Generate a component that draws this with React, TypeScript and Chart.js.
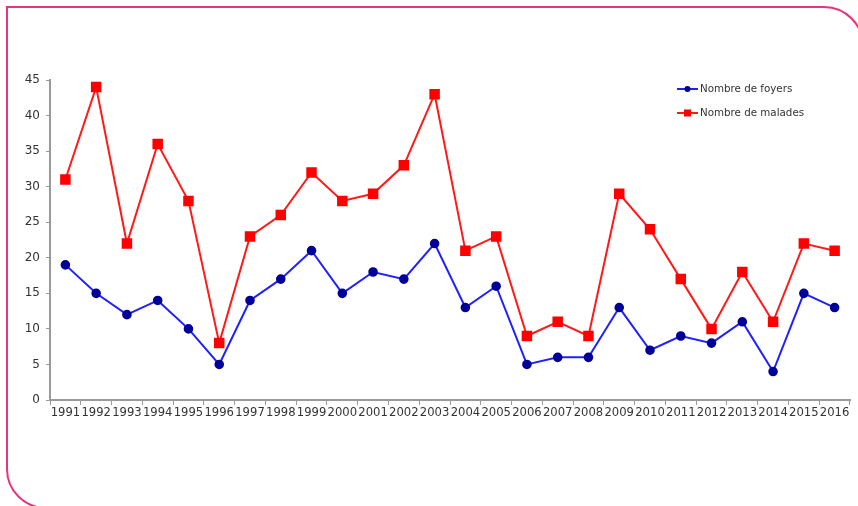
import React, { useEffect, useRef } from "react";
import { Chart, registerables } from "chart.js";

Chart.register(...registerables);

const years = [
  "1991", "1992", "1993", "1994", "1995", "1996", "1997", "1998", "1999", "2000",
  "2001", "2002", "2003", "2004", "2005", "2006", "2007", "2008", "2009", "2010",
  "2011", "2012", "2013", "2014", "2015", "2016",
];
const foyers = [19, 15, 12, 14, 10, 5, 14, 17, 21, 15, 18, 17, 22, 13, 16, 5, 6, 6, 13, 7, 9, 8, 11, 4, 15, 13];
const malades = [31, 44, 22, 36, 28, 8, 23, 26, 32, 28, 29, 33, 43, 21, 23, 9, 11, 9, 29, 24, 17, 10, 18, 11, 22, 21];
const seriesLabels = ["Nombre de foyers", "Nombre de malades"];
const yMax = 45;
const yStep = 5;

const legendPlugin = {
  id: "customLegend",
  afterDraw(chart: any) {
    const ctx = chart.ctx;
    const area = chart.chartArea;
    const x0 = area.right - 173;
    const y0 = area.top + 9;
    const gap = 24;
    chart.data.datasets.forEach((ds: any, i: number) => {
      const y = y0 + i * gap;
      ctx.save();
      ctx.strokeStyle = ds.borderColor;
      ctx.lineWidth = 2;
      ctx.beginPath();
      ctx.moveTo(x0, y);
      ctx.lineTo(x0 + 21, y);
      ctx.stroke();
      ctx.fillStyle = ds.pointBackgroundColor;
      if (ds.pointStyle === "rect") {
        ctx.fillRect(x0 + 10.5 - 3.5, y - 3.5, 7, 7);
      } else {
        ctx.beginPath();
        ctx.arc(x0 + 10.5, y, 3, 0, Math.PI * 2);
        ctx.fill();
      }
      ctx.fillStyle = "#333";
      ctx.font = "10.3px 'DejaVu Sans'";
      ctx.textBaseline = "middle";
      ctx.textAlign = "left";
      ctx.fillText(ds.label, x0 + 23, y);
      ctx.restore();
    });
  },
};

export default function App() {
  const ref = useRef<HTMLCanvasElement>(null);
  useEffect(() => {
    if (!ref.current) return;
    const chart = new Chart(ref.current, {
      type: "line",
      data: {
        labels: years,
        datasets: [
          {
            label: seriesLabels[0],
            data: foyers,
            borderColor: "#2020ff",
            backgroundColor: "#000099",
            pointBackgroundColor: "#000099",
            pointBorderColor: "#000099",
            pointStyle: "circle",
            pointRadius: 3.8,
            borderWidth: 2,
            tension: 0,
          },
          {
            label: seriesLabels[1],
            data: malades,
            borderColor: "#ff1a1a",
            backgroundColor: "#ff0000",
            pointBackgroundColor: "#ff0000",
            pointBorderColor: "#ff0000",
            pointStyle: "rect",
            pointRadius: 6,
            borderWidth: 2,
            tension: 0,
          },
        ],
      },
      options: {
        responsive: false,
        animation: false,
        layout: { padding: { left: 0, right: 8, top: 80, bottom: 76 } },
        plugins: { legend: { display: false }, tooltip: { enabled: false } },
        scales: {
          x: {
            offset: true,
            grid: { offset: true, drawOnChartArea: false, tickLength: 5, color: "#9a9a9a", lineWidth: 1 },
            border: { display: true, color: "#9a9a9a", width: 2 },
            ticks: {
              autoSkip: false,
              maxRotation: 0,
              minRotation: 0,
              padding: 1,
              color: "#333",
              font: { family: "'DejaVu Sans'", size: 11.6 },
            },
            afterFit: (s: any) => { s.height = 30; },
          },
          y: {
            min: 0,
            max: yMax,
            ticks: {
              stepSize: yStep,
              padding: 6,
              color: "#333",
              font: { family: "'DejaVu Sans'", size: 12 },
            },
            grid: { drawOnChartArea: false, tickLength: 4, color: "#9a9a9a" },
            border: { display: true, color: "#9a9a9a", width: 2 },
            afterFit: (s: any) => { s.width = 50; },
          },
        },
      },
      plugins: [legendPlugin],
    });
    return () => chart.destroy();
  }, []);

  return (
    <div style={{ position: "fixed", left: 0, top: 0, width: 858, height: 506, background: "#fff", overflow: "hidden" }}>
      <div
        style={{
          position: "absolute",
          left: 6,
          top: 6,
          width: 858,
          height: 503,
          border: "2px solid #e8337e",
          borderTopRightRadius: 40,
          borderBottomLeftRadius: 40,
          boxSizing: "border-box",
          background: "#fff",
        }}
      />
      <canvas ref={ref} width={858} height={506} style={{ position: "absolute", left: 0, top: 0 }} />
    </div>
  );
}
